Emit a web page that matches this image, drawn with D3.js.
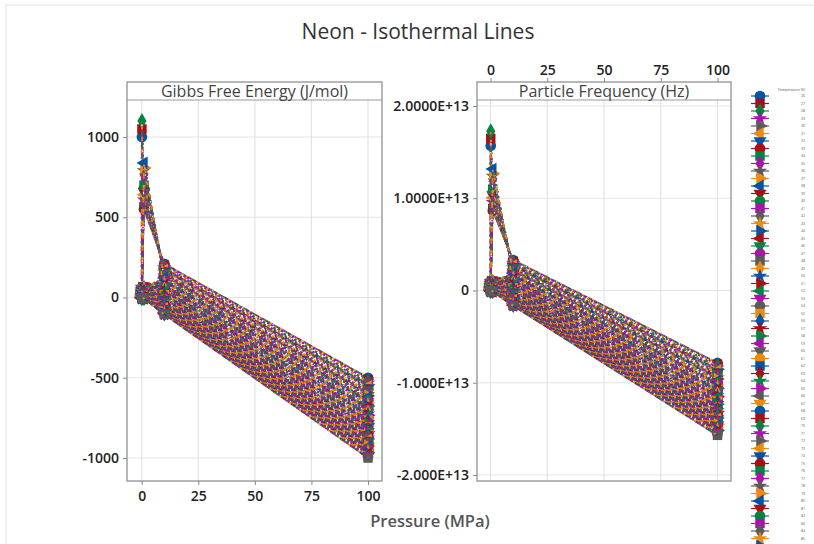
<!DOCTYPE html>
<html><head><meta charset="utf-8">
<script src="https://cdn.jsdelivr.net/npm/d3@7"></script>
<style>html,body{margin:0;padding:0;background:#fff;overflow:hidden}svg{display:block}text{font-family:"Open Sans","Noto Sans",sans-serif}</style>
</head><body><div id="chart"></div>
<script>
const temperatures = [26,27,28,29,30,31,32,33,34,35,36,37,38,39,40,41,42,43,44,45,46,47,48,49,50,51,52,53,54,55,56,57,58,59,60,61,62,63,64,65,66,67,68,69,70,71,72,73,74,75,76,77,78,79,80,81,82,83,84,85,86,87,88,89,90];
const pressures = [0.05,0.1,1,10,100];
const xTicks = [0,25,50,75,100];
const gibbsTicks = [1000,500,0,-500,-1000];
const freqTicks = [2,1,0,-1,-2];
const freqTickLabels = ["2.0000E+13","1.0000E+13","0","-1.000E+13","-2.000E+13"];

const gibbsP005 = [12,12,11,11,11,10,10,10,9,9,9,8,8,8,7,7,7,6,6,6,5,5,5,5,4,4,4,4,3,3,3,3,2,2,2,2,1,1,1,1,1,0,0,0,0,0,-1,-1,-1,-1,-1,-2,-2,-2,-2,-2,-3,-3,-3,-3,-3,-4,-4,-4,-4];
const gibbsP01 = [1000,1050,1100,62,60,58,56,54,52,50,49,47,46,44,43,41,40,38,37,35,34,33,31,30,29,28,26,25,24,23,22,21,20,19,18,17,16,15,14,13,12,11,10,10,9,8,7,6,6,5,4,4,3,2,2,1,0,0,-1,-1,-1,-2,-2,-2,-2];
const gibbsP1 = [550,565,580,608,620,640,660,680,700,770,790,810,838,70,67,65,62,60,57,55,53,50,48,46,44,42,40,38,36,34,32,30,28,27,25,23,22,20,18,17,15,14,12,11,9,8,7,5,4,3,2,1,0,-1,-1,-2,-3,-3,-4,-5,-5,-5,-5,-6,-6];
const gibbsP10 = [210,202,194,186,179,171,164,156,149,142,135,128,121,114,107,101,94,88,81,75,69,63,57,51,45,39,34,28,23,17,12,7,2,-3,-8,-13,-18,-23,-28,-33,-37,-42,-46,-51,-55,-60,-64,-68,-72,-76,-80,-84,-87,-90,-92,-94,-96,-98,-99,-100,-101,-102,-103,-104,-105];
const gibbsP100 = [-500,-511,-522,-533,-543,-554,-564,-574,-584,-594,-603,-613,-622,-631,-640,-649,-658,-667,-676,-684,-693,-701,-709,-717,-725,-733,-741,-749,-756,-764,-771,-779,-786,-793,-800,-807,-814,-821,-828,-835,-842,-849,-855,-862,-868,-875,-881,-888,-894,-900,-907,-913,-919,-925,-931,-937,-943,-949,-955,-961,-968,-975,-983,-991,-1000];

// Particle frequency, in units of 1E+13 Hz
const freqP005 = [.019,.019,.017,.017,.017,.016,.016,.016,.014,.014,.014,.013,.013,.013,.011,.011,.011,.009,.009,.009,.008,.008,.008,.008,.006,.006,.006,.006,.005,.005,.005,.005,.003,.003,.003,.003,.002,.002,.002,.002,.002,0,0,0,0,0,-.002,-.002,-.002,-.002,-.002,-.003,-.003,-.003,-.003,-.003,-.005,-.005,-.005,-.005,-.005,-.006,-.006,-.006,-.006];
const freqP01 = [1.570,1.649,1.727,.097,.094,.091,.088,.085,.082,.079,.077,.074,.072,.069,.068,.064,.063,.060,.058,.055,.053,.052,.049,.047,.046,.044,.041,.039,.038,.036,.035,.033,.031,.030,.028,.027,.025,.024,.022,.020,.019,.017,.016,.016,.014,.013,.011,.009,.009,.008,.006,.006,.005,.003,.003,.002,0,0,-.002,-.002,-.002,-.003,-.003,-.003,-.003];
const freqP1 = [.864,.887,.911,.955,.973,1.005,1.036,1.068,1.099,1.209,1.240,1.272,1.316,.110,.105,.102,.097,.094,.089,.086,.083,.079,.075,.072,.069,.066,.063,.060,.057,.053,.050,.047,.044,.042,.039,.036,.035,.031,.028,.027,.024,.022,.019,.017,.014,.013,.011,.008,.006,.005,.003,.002,0,-.002,-.002,-.003,-.005,-.005,-.006,-.008,-.008,-.008,-.008,-.009,-.009];
const freqP10 = [.330,.317,.305,.292,.281,.268,.257,.245,.234,.223,.212,.201,.190,.179,.168,.159,.148,.138,.127,.118,.108,.099,.089,.080,.071,.061,.053,.044,.036,.027,.019,.011,.003,-.005,-.013,-.020,-.028,-.036,-.044,-.052,-.058,-.066,-.072,-.080,-.086,-.094,-.100,-.107,-.113,-.119,-.126,-.132,-.137,-.141,-.144,-.148,-.151,-.154,-.155,-.157,-.159,-.160,-.162,-.163,-.165];
const freqP100 = [-.785,-.802,-.820,-.837,-.853,-.870,-.885,-.901,-.917,-.933,-.947,-.962,-.977,-.991,-1.005,-1.019,-1.033,-1.047,-1.061,-1.074,-1.088,-1.101,-1.113,-1.126,-1.138,-1.151,-1.163,-1.176,-1.187,-1.199,-1.210,-1.223,-1.234,-1.245,-1.256,-1.267,-1.278,-1.289,-1.300,-1.311,-1.322,-1.333,-1.342,-1.353,-1.363,-1.374,-1.383,-1.394,-1.404,-1.413,-1.424,-1.433,-1.443,-1.452,-1.462,-1.471,-1.481,-1.490,-1.499,-1.509,-1.520,-1.531,-1.543,-1.556,-1.570];

const colors = ["#0054A6","#A70F15","#008540","#AE10AE","#5A5A5A","#EE8A10"];
const markers = [
  {t:d3.symbolCircle,r:0,s:90},{t:d3.symbolSquare,r:0,s:90},{t:d3.symbolDiamond,r:0,s:72},
  {t:d3.symbolStar,r:0,s:64},{t:d3.symbolTriangle,r:90,s:72},{t:d3.symbolTriangle,r:-90,s:72},{t:d3.symbolTriangle,r:180,s:72}
];

const W=814,H=544;
const svg=d3.select("#chart").append("svg").attr("width",W).attr("height",H);
svg.append("rect").attr("width",W).attr("height",H).attr("fill","#fff");
svg.append("rect").attr("x",6).attr("y",5).attr("width",W+50).attr("height",H+50).attr("fill","#fff").attr("stroke","#ececec").attr("stroke-width",1.5);

svg.append("text").attr("x",418).attr("y",39).attr("text-anchor","middle").attr("font-size",21).attr("font-weight",500).attr("fill","#333").text("Neon - Isothermal Lines");
svg.append("text").attr("x",430).attr("y",527).attr("text-anchor","middle").attr("font-size",16.5).attr("font-weight",600).attr("fill","#555").text("Pressure (MPa)");

function panel(cfg){
  const {left,right,xRange,yRange,yDomain,columns,yTicks,yFmt,title,xSide,id}=cfg;
  const top=82,stripBottom=100,bottom=481;
  const x=d3.scaleLinear().domain([0,100]).range(xRange);
  const y=d3.scaleLinear().domain(yDomain).range(yRange);
  const g=svg.append("g");
  const clip="clip"+id;
  svg.append("clipPath").attr("id",clip).append("rect").attr("x",left).attr("y",stripBottom).attr("width",right-left).attr("height",bottom-stripBottom);
  g.append("g").selectAll("line").data(xTicks).join("line").attr("x1",d=>x(d)).attr("x2",d=>x(d)).attr("y1",stripBottom).attr("y2",bottom).attr("stroke","#e3e3e3").attr("stroke-width",1.2);
  g.append("g").selectAll("line").data(yTicks).join("line").attr("y1",d=>y(d)).attr("y2",d=>y(d)).attr("x1",left).attr("x2",right).attr("stroke","#e3e3e3").attr("stroke-width",1.2);
  const line=d3.line().x(d=>x(d[0])).y(d=>y(d[1]));
  const plot=g.append("g").attr("clip-path",`url(#${clip})`);
  const series=temperatures.map((t,i)=>pressures.map((p,k)=>[p,columns[k][i]]));
  const n=temperatures.length;
  series.forEach((s,i)=>{
    const c=colors[i%6], m=markers[i%7];
    const gs=plot.append("g");
    gs.selectAll("path.m").data(s).join("path").attr("class","m")
      .attr("d",d3.symbol().type(m.t).size(m.s))
      .attr("transform",d=>`translate(${x(d[0])},${y(d[1])}) rotate(${m.r})`)
      .attr("fill",c);
    const d=line(s);
    colors.forEach((col,k)=>{
      gs.append("path").attr("d",d).attr("fill","none").attr("stroke",col).attr("stroke-width",1.9)
        .attr("stroke-dasharray","2 10").attr("stroke-dashoffset",(((k*(1+i%5))%6)*2+i*3.7)%12);
    });
    if(i<38){
      gs.append("path").attr("d",d).attr("fill","none").attr("stroke","#fff").attr("stroke-width",1.1)
        .attr("stroke-dasharray","1.4 33").attr("stroke-dashoffset",i%3);
    }
    if(i<n-3){
      colors.forEach((col,k)=>{
        gs.selectAll("line.b"+k).data(s.slice(3)).join("line").attr("class","b"+k)
          .attr("x1",d=>x(d[0])-5.5).attr("x2",d=>x(d[0])+5.5).attr("y1",d=>y(d[1])).attr("y2",d=>y(d[1]))
          .attr("stroke",col).attr("stroke-width",1.5).attr("stroke-dasharray","2 10").attr("stroke-dashoffset",(((k*(1+i%5))%6)*2+i*3)%12);
      });
    }
  });
  g.append("rect").attr("x",left).attr("y",top).attr("width",right-left).attr("height",bottom-top).attr("fill","none").attr("stroke","#999").attr("stroke-width",1.4);
  g.append("line").attr("x1",left).attr("x2",right).attr("y1",stripBottom).attr("y2",stripBottom).attr("stroke","#999").attr("stroke-width",1.2);
  g.append("text").attr("x",(left+right)/2).attr("y",97).attr("text-anchor","middle").attr("font-size",16).attr("font-weight",500).attr("fill","#444").text(title);
  const ay=d3.axisLeft(y).tickValues(yTicks).tickSize(4).tickPadding(4).tickFormat(yFmt);
  const gy=g.append("g").attr("transform",`translate(${left},0)`).call(ay);
  const ax=(xSide==="bottom"?d3.axisBottom(x):d3.axisTop(x)).tickValues(xTicks).tickSize(4).tickPadding(xSide==="bottom"?6:3);
  const gx=g.append("g").attr("transform",`translate(0,${xSide==="bottom"?bottom:top})`).call(ax);
  [gx,gy].forEach(a=>{
    a.select(".domain").remove();
    a.selectAll("line").attr("stroke","#888");
    a.selectAll("text").attr("font-size",14).attr("font-weight",600).attr("fill","#222").style("font-family",'"Open Sans","Noto Sans",sans-serif');
  });
}

panel({id:"a",left:127,right:382,xRange:[141.7,368],yRange:[137,458],yDomain:[1000,-1000],
  columns:[gibbsP005,gibbsP01,gibbsP1,gibbsP10,gibbsP100],yTicks:gibbsTicks,yFmt:d=>String(d),
  title:"Gibbs Free Energy (J/mol)",xSide:"bottom"});
panel({id:"b",left:477,right:731,xRange:[490.5,717.5],yRange:[106,475],yDomain:[2,-2],
  columns:[freqP005,freqP01,freqP1,freqP10,freqP100],yTicks:freqTicks,yFmt:(d,i)=>freqTickLabels[i],
  title:"Particle Frequency (Hz)",xSide:"top"});

const legend=svg.append("g");
const ly=d3.scaleLinear().domain([0,1]).range([96,103.5]);
legend.append("text").attr("x",805).attr("y",90.5).attr("text-anchor","end").attr("font-size",3.6).attr("fill","#555").text("Temperature (K)");
temperatures.forEach((t,i)=>{
  const yy=ly(i), m=markers[i%7], c=colors[i%6];
  legend.append("line").attr("x1",751).attr("x2",769).attr("y1",yy).attr("y2",yy).attr("stroke",c).attr("stroke-width",1.2);
  legend.append("path").attr("d",d3.symbol().type(m.t).size(m.s)()).attr("transform",`translate(760,${yy}) rotate(${m.r})`).attr("fill",c);
  if(yy<540) legend.append("text").attr("x",805).attr("y",yy+1.2).attr("text-anchor","end").attr("font-size",3.4).attr("fill","#555").text(t);
});
</script></body></html>
